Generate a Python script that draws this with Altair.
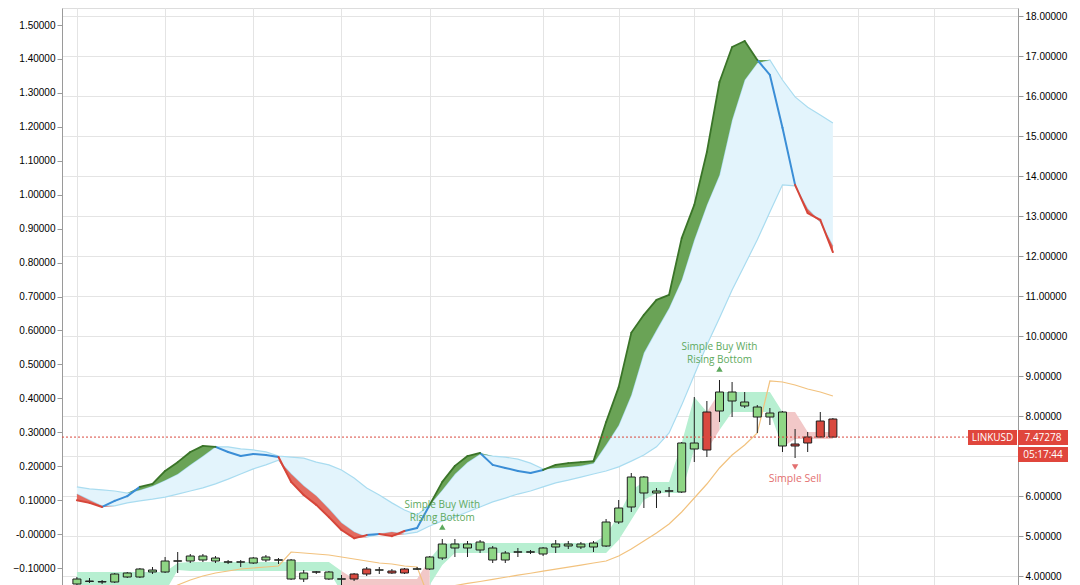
import altair as alt
import pandas as pd

# ---------------- data: daily candles (price, right axis) ----------------
opens = [3.8, 3.863, 3.85, 3.85, 3.975, 3.975, 4.1, 4.1, 4.37, 4.375, 4.4, 4.375, 4.345, 4.345, 4.325,
         4.4, 4.395, 3.925, 3.925, 4.095, 3.925, 3.92, 4.05, 4.175, 4.145, 4.125, 4.175, 4.17, 4.175,
         4.45, 4.7, 4.7, 4.65, 4.4, 4.4, 4.595, 4.595, 4.55, 4.725, 4.75, 4.725, 4.725, 4.75, 5.35,
         5.725, 6.075, 6.075, 6.12, 6.1, 7.175, 8.1, 8.125, 8.375, 8.25, 7.975, 7.975, 7.25, 7.3,
         7.475, 7.875, 7.925]
highs = [3.975, 3.95, 3.9, 4.075, 4.1, 4.2, 4.225, 4.475, 4.6, 4.55, 4.55, 4.5, 4.4, 4.4, 4.475,
         4.525, 4.45, 4.425, 4.15, 4.125, 4.125, 4.025, 4.075, 4.225, 4.225, 4.175, 4.2, 4.225, 4.5,
         4.925, 4.925, 4.875, 4.9, 4.75, 4.625, 4.7, 4.65, 4.725, 4.9, 4.875, 4.85, 4.875, 5.425, 5.9,
         6.575, 6.5, 6.2, 6.225, 7.35, 8.475, 8.375, 8.9, 8.85, 8.6, 8.275, 8.2, 8.125, 7.675, 7.6,
         8.1, 7.95]
lows = [3.775, 3.825, 3.8, 3.825, 3.95, 3.95, 4.05, 4.075, 4.075, 4.325, 4.35, 4.325, 4.3, 4.225,
        4.3, 4.35, 4.3, 3.9, 3.85, 4.05, 3.9, 3.775, 3.875, 4.0, 4.05, 4.05, 4.05, 4.15, 4.15, 4.4,
        4.475, 4.475, 4.575, 4.325, 4.325, 4.475, 4.55, 4.5, 4.575, 4.675, 4.675, 4.6, 4.725, 5.3,
        5.6, 5.7, 5.7, 5.975, 6.075, 6.85, 6.975, 7.85, 7.975, 8.2, 7.575, 7.775, 7.1, 6.95, 7.1,
        7.47, 7.47]
closes = [3.925, 3.875, 3.86, 4.05, 4.075, 4.175, 4.15, 4.375, 4.38, 4.5, 4.5, 4.45, 4.355, 4.355,
          4.45, 4.475, 4.405, 4.4, 4.075, 4.105, 4.1, 3.93, 3.925, 4.05, 4.155, 4.075, 4.075, 4.18,
          4.475, 4.8, 4.8, 4.8, 4.85, 4.7, 4.575, 4.605, 4.605, 4.7, 4.8, 4.8, 4.8, 4.825, 5.35, 5.7,
          6.475, 6.475, 6.125, 6.13, 7.325, 7.325, 7.15, 8.6, 8.6, 8.35, 8.225, 8.075, 8.1, 7.25,
          7.325, 7.475, 7.47278]

# channel band behind the candles
band_upper = [4.1] * 8 + [4.325] + [4.35] * 12 + [4.125] + [3.925] * 6 + [4.425, 4.8] + [4.825] * 12 + \
             [5.025, 5.525, 6.15] + [6.35] * 3 + [7.325, 8.475, 8.1] + [8.6] * 5 + [8.1, 8.1] + [7.6] * 3
band_lower = [3.6] * 8 + [4.15] + [4.125] * 12 + [3.6] + [3.6] * 6 + [3.775, 4.275] + [4.575] * 12 + \
             [4.575, 4.9, 5.4, 5.9, 6.075, 6.075, 6.075, 7.175, 7.15, 7.65] + [8.1] * 4 + [7.225] + [7.425] * 4
band_state = ["G"] * 21 + ["R"] * 7 + ["G"] * 22 + ["R"] + ["G"] * 5 + ["R"] * 5

# orange trailing line (price)
trail = [None] * 7 + [3.6, 3.775, 3.9, 4.0, 4.075, 4.125, 4.175, 4.2, 4.225, 4.25, 4.6, 4.575, 4.55,
                      4.525, 4.475, 4.425, 4.375, 4.325, 4.3, 4.25, 4.225, 3.4, 3.5, 3.76, 3.815, 3.862,
                      3.915, 3.968, 4.02, 4.068, 4.12, 4.17, 4.22, 4.272, 4.325, 4.375, 4.5, 4.675,
                      4.875, 5.075, 5.3, 5.6, 5.95, 6.3, 6.7, 7.025, 7.275, 7.575, 8.875, 8.85, 8.775,
                      8.675, 8.6, 8.5]

# indicator (left axis)
ind_main = [0.100, 0.092, 0.080, 0.098, 0.112, 0.139, 0.148, 0.186, 0.212, 0.242, 0.260, 0.257, 0.242,
            0.230, 0.236, 0.233, 0.227, 0.154, 0.115, 0.086, 0.050, 0.012, -0.012, -0.003, 0.000,
            -0.006, 0.009, 0.018, 0.086, 0.154, 0.201, 0.230, 0.239, 0.204, 0.195, 0.186, 0.180,
            0.189, 0.204, 0.209, 0.212, 0.215, 0.330, 0.433, 0.593, 0.646, 0.690, 0.705, 0.872,
            0.970, 1.126, 1.332, 1.435, 1.453, 1.397, 1.353, 1.197, 1.029, 0.946, 0.926, 0.831]
ind_upper = [0.139, 0.133, 0.130, 0.127, 0.121, 0.130, 0.142, 0.159, 0.177, 0.204, 0.230, 0.257, 0.257,
             0.251, 0.248, 0.242, 0.230, 0.227, 0.224, 0.212, 0.204, 0.189, 0.165, 0.136, 0.115,
             0.092, 0.071, 0.056, 0.086, 0.130, 0.177, 0.212, 0.236, 0.230, 0.227, 0.221, 0.209,
             0.192, 0.195, 0.198, 0.201, 0.209, 0.263, 0.321, 0.410, 0.534, 0.601, 0.666, 0.749,
             0.867, 0.970, 1.058, 1.220, 1.338, 1.388, 1.397, 1.338, 1.288, 1.258, 1.235, 1.211]
ind_lower = [0.118, 0.100, 0.083, 0.083, 0.092, 0.098, 0.103, 0.109, 0.118, 0.127, 0.136, 0.148, 0.162,
             0.177, 0.192, 0.204, 0.218, 0.177, 0.142, 0.112, 0.074, 0.033, 0.006, -0.009, 0.000,
             0.006, 0.000, 0.006, 0.024, 0.039, 0.050, 0.065, 0.080, 0.095, 0.106, 0.118, 0.127,
             0.139, 0.151, 0.159, 0.168, 0.177, 0.186, 0.198, 0.215, 0.233, 0.257, 0.298, 0.380,
             0.469, 0.557, 0.637, 0.719, 0.793, 0.867, 0.949, 1.029, 1.026, 0.958, 0.920, 0.849]

week_lines = [0, 7, 14, 21, 28, 37, 43, 49, 56, 62, 68]
left_ticks = [-0.1, 0.0, 0.1, 0.2, 0.3, 0.4, 0.5, 0.6, 0.7, 0.8, 0.9, 1.0, 1.1, 1.2, 1.3, 1.4, 1.5]
right_ticks = [4, 5, 6, 7, 8, 9, 10, 11, 12, 13, 14, 15, 16, 17, 18]

last_price = 7.47278
symbol = "LINKUSD"
clock = "05:17:44"

signal_idx = [29, 51, 57]
signal_price = [5.225, 9.175, 6.725]
signal_kind = ["buy", "buy", "sell"]

# ---------------- tables ----------------
n = len(opens)
idx = list(range(n))
candles = pd.DataFrame({"i": idx, "o": opens, "h": highs, "l": lows, "c": closes})
candles["up"] = candles["c"] >= candles["o"]

ind = pd.DataFrame({"i": idx, "m": ind_main, "u": ind_upper, "lo": ind_lower})
ind["gtop"] = ind[["m", "u"]].max(axis=1)
ind["rbot"] = ind[["m", "lo"]].min(axis=1)

segs = []
for k in range(n - 1):
    mm = (ind_main[k] + ind_main[k + 1]) / 2
    uu = (ind_upper[k] + ind_upper[k + 1]) / 2
    ll = (ind_lower[k] + ind_lower[k + 1]) / 2
    st = "g" if mm > uu else ("r" if mm < ll else "b")
    segs.append({"i": k, "i2": k + 1, "m": ind_main[k], "m2": ind_main[k + 1], "st": st})
segs = pd.DataFrame(segs)

band_rows = []
seg = 0
for k in idx:
    if k > 0 and band_state[k] != band_state[k - 1]:
        seg += 1
    band_rows.append({"i": k, "bu": band_upper[k], "bl": band_lower[k], "st": band_state[k], "seg": seg})
    if k < n - 1 and band_state[k + 1] != band_state[k]:
        band_rows.append({"i": k + 1, "bu": band_upper[k + 1], "bl": band_lower[k + 1],
                          "st": band_state[k], "seg": seg})
band = pd.DataFrame(band_rows)

trail_df = pd.DataFrame({"i": idx, "t": trail}).dropna()
sig = pd.DataFrame({"i": signal_idx, "p": signal_price, "kind": signal_kind})
last_df = pd.DataFrame({"p": [last_price]})

# ---------------- scales / encodings ----------------
FONT = "Open Sans"
xscale = alt.Scale(domain=[-0.7854, 74.295], nice=False, zero=False)
xaxis = alt.Axis(values=week_lines, grid=True, gridColor="#e4e4e4", labels=False, ticks=False,
                 domain=False, title=None)


def X(f="i"):
    return alt.X(f"{f}:Q", scale=xscale, axis=xaxis, title=None)


lscale = alt.Scale(domain=[-0.1500, 1.5501], nice=False, zero=False)
laxis = alt.Axis(orient="left", values=left_ticks, format=".5f",
                 labelExpr="abs(datum.value) < 1e-9 ? '-0.00000' : format(datum.value, '.5f')",
                 grid=False, domainColor="#9a9a9a", tickColor="#9a9a9a", tickSize=5,
                 labelPadding=2, title=None)
rscale = alt.Scale(domain=[3.775, 18.2], nice=False, zero=False)
raxis = alt.Axis(orient="right", values=right_ticks, format=".5f",
                 labelExpr="datum.value == 7 ? '' : format(datum.value, '.5f')",
                 grid=True, gridColor="#e4e4e4",
                 domainColor="#9a9a9a", tickColor="#9a9a9a", tickSize=5, labelPadding=2, title=None)


def YL(f):
    return alt.Y(f"{f}:Q", scale=lscale, axis=laxis, title=None)


def YR(f):
    return alt.Y(f"{f}:Q", scale=rscale, axis=raxis, title=None)


# ---------------- left (indicator) layers ----------------
ib = alt.Chart(ind)
cloud = ib.mark_area(color="#e3f4fc", opacity=1, clip=True).encode(x=X(), y=YL("u"), y2=alt.Y2("lo:Q"))
uline = ib.mark_line(color="#a9dcf0", strokeWidth=1.2, clip=True).encode(x=X(), y=YL("u"))
lline = ib.mark_line(color="#a9dcf0", strokeWidth=1.2, clip=True).encode(x=X(), y=YL("lo"))
gfill = ib.mark_area(color="#6aa356", clip=True).encode(x=X(), y=YL("gtop"), y2=alt.Y2("u:Q"))
rfill = ib.mark_area(color="#e36a5f", clip=True).encode(x=X(), y=YL("lo"), y2=alt.Y2("rbot:Q"))
seg_layers = []
for st, col, w in [("b", "#3b8ed6", 2), ("g", "#3a7428", 1.8), ("r", "#d6463a", 2)]:
    seg_layers.append(
        alt.Chart(segs).transform_filter(alt.datum.st == st)
        .mark_rule(color=col, strokeWidth=w, clip=True, strokeCap="round")
        .encode(x=X(), x2=alt.X2("i2:Q"), y=YL("m"), y2=alt.Y2("m2:Q"))
    )
left_group = alt.layer(cloud, uline, lline, gfill, rfill, *seg_layers)

# ---------------- right (price) layers ----------------
bands = []
for st, col in [("G", "#b7efd1"), ("R", "#f2c8c8")]:
    bands.append(
        alt.Chart(band).transform_filter(alt.datum.st == st)
        .mark_area(color=col, opacity=1, clip=True)
        .encode(x=X(), y=YR("bu"), y2=alt.Y2("bl:Q"), detail="seg:N")
    )
trail_line = alt.Chart(trail_df).mark_line(color="#f2c27e", strokeWidth=1.2, clip=True).encode(
    x=X(), y=YR("t"))
wicks = alt.Chart(candles).mark_rule(color="#1e1e1e", strokeWidth=1, clip=True).encode(
    x=X(), y=YR("l"), y2=alt.Y2("h:Q"))
bodies = alt.Chart(candles).mark_bar(size=8, stroke="#1e1e1e", strokeWidth=1, clip=True).encode(
    x=X(), y=YR("o"), y2=alt.Y2("c:Q"),
    color=alt.condition("datum.up", alt.value("#8fd685"), alt.value("#d9493f")))
price_line = alt.Chart(last_df).mark_rule(color="#d9493f", strokeWidth=1, strokeDash=[2, 2]).encode(
    y=YR("p"), x=alt.value(0), x2=alt.value(906))

buy = sig[sig.kind == "buy"]
sell = sig[sig.kind == "sell"]
GREEN_T = "#5ea95e"
RED_T = "#e36f6f"
buy_mark = alt.Chart(buy).mark_point(shape="triangle-up", filled=True, size=42, color=GREEN_T,
                                     opacity=1).encode(x=X(), y=YR("p"))
buy_t1 = alt.Chart(buy).mark_text(text="Simple Buy With", dy=-22, color=GREEN_T, font=FONT,
                                  fontSize=10).encode(x=X(), y=YR("p"))
buy_t2 = alt.Chart(buy).mark_text(text="Rising Bottom", dy=-9, color=GREEN_T, font=FONT,
                                  fontSize=10).encode(x=X(), y=YR("p"))
sell_mark = alt.Chart(sell).mark_point(shape="triangle-down", filled=True, size=42, color=RED_T,
                                       opacity=1).encode(x=X(), y=YR("p"))
sell_t = alt.Chart(sell).mark_text(text="Simple Sell", dy=12, color=RED_T, font=FONT,
                                   fontSize=10.5).encode(x=X(), y=YR("p"))

box_df = pd.DataFrame({"k": [0]})
BOX = "#e0463c"
box1 = alt.Chart(box_df).mark_rect(color=BOX).encode(
    x=alt.value(906), x2=alt.value(955), y=alt.value(422), y2=alt.value(437))
box2 = alt.Chart(box_df).mark_rect(color=BOX).encode(
    x=alt.value(956), x2=alt.value(1006), y=alt.value(422), y2=alt.value(437))
box3 = alt.Chart(box_df).mark_rect(color=BOX).encode(
    x=alt.value(956), x2=alt.value(1006), y=alt.value(439), y2=alt.value(454))
txt1 = alt.Chart(box_df).mark_text(text=symbol, color="white", font=FONT, fontSize=10,
                                   baseline="middle").encode(x=alt.value(930.5), y=alt.value(429.5))
txt2 = alt.Chart(box_df).mark_text(text=f"{last_price:.5f}", color="white", font=FONT, fontSize=10,
                                   baseline="middle").encode(x=alt.value(981), y=alt.value(429.5))
txt3 = alt.Chart(box_df).mark_text(text=clock, color="white", font=FONT, fontSize=10,
                                   baseline="middle").encode(x=alt.value(981), y=alt.value(446.5))

right_group = alt.layer(*bands, trail_line, wicks, bodies, price_line, buy_mark, buy_t1, buy_t2,
                        sell_mark, sell_t, box1, box2, box3, txt1, txt2, txt3)

chart = alt.layer(left_group, right_group).resolve_scale(y="independent").properties(
    width=956, height=577,
    padding={"left": 54, "right": 54, "top": 0, "bottom": 0},
    autosize=alt.AutoSizeParams(type="none"),
).configure_view(stroke=None).configure_axis(
    labelFont=FONT, labelFontSize=11, labelColor="#505050"
).configure(background="white")

chart.save("out.html", embed_options={"renderer": "svg", "actions": False})
